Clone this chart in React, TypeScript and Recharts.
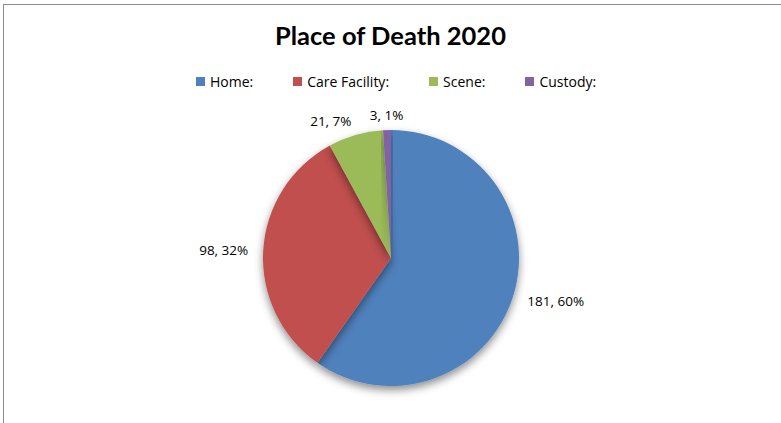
import { PieChart, Pie, Cell } from "recharts";

const categories = ["Home:", "Care Facility:", "Scene:", "Custody:"];
const counts = [181, 98, 21, 3];
const percents = ["60%", "32%", "7%", "1%"];
const colors = ["#4F81BD", "#C0504D", "#9BBB59", "#8064A2"];

const data = categories.map((name, i) => ({
  name,
  value: counts[i],
  pct: percents[i],
}));

const RAD = Math.PI / 180;

function renderLabel(props: any) {
  const { cx, cy, midAngle, outerRadius, index } = props;
  const r = outerRadius + 15;
  const cos = Math.cos(-midAngle * RAD);
  const sin = Math.sin(-midAngle * RAD);
  const x = cx + r * cos;
  const y = cy + r * sin;
  const anchor = Math.abs(cos) < 0.1 ? "middle" : cos > 0 ? "start" : "end";
  return (
    <text
      x={x}
      y={y}
      textAnchor={anchor}
      dominantBaseline="central"
      fill="#000"
      fontSize={13.5}
      fontFamily="'Open Sans', sans-serif"
    >
      {`${data[index].value}, ${data[index].pct}`}
    </text>
  );
}

function LegendRow() {
  return (
    <div
      style={{
        position: "absolute",
        left: 196,
        top: 72,
        display: "flex",
        fontFamily: "'Open Sans', sans-serif",
        fontSize: 14,
        color: "#000",
        whiteSpace: "nowrap",
      }}
    >
      {data.map((d, i) => (
        <div
          key={d.name}
          style={{
            display: "flex",
            alignItems: "center",
            marginRight: i < data.length - 1 ? 40 : 0,
          }}
        >
          <span
            style={{
              width: 9,
              height: 9,
              background: colors[i],
              display: "inline-block",
              marginRight: 5,
            }}
          />
          <span>{d.name}</span>
        </div>
      ))}
    </div>
  );
}

export default function App() {
  return (
    <div
      style={{
        position: "absolute",
        left: 0,
        top: 0,
        width: 781,
        height: 423,
        background: "#fff",
        overflow: "hidden",
      }}
    >
      <div
        style={{
          position: "absolute",
          left: 3,
          top: 4,
          width: 800,
          height: 440,
          borderLeft: "1px solid #8c8c8c",
          borderTop: "1px solid #8c8c8c",
        }}
      />
      <div
        style={{
          position: "absolute",
          left: 0,
          top: 20,
          width: 781,
          textAlign: "center",
          fontFamily: "Lato, 'Open Sans', sans-serif",
          fontWeight: 700,
          fontSize: 25.5,
          color: "#000",
        }}
      >
        Place of Death 2020
      </div>
      <LegendRow />
      <svg width={0} height={0} style={{ position: "absolute" }}>
        <defs>
          <filter id="pieShadow" x="-20%" y="-20%" width="140%" height="150%">
            <feDropShadow dx="0" dy="4" stdDeviation="4" floodColor="#000" floodOpacity="0.45" />
          </filter>
        </defs>
      </svg>
      <div style={{ position: "absolute", left: 0, top: 0 }}>
        <PieChart width={781} height={423} margin={{ top: 0, right: 0, bottom: 0, left: 0 }}>
          <Pie
            data={data}
            dataKey="value"
            nameKey="name"
            cx={391}
            cy={258}
            outerRadius={128}
            startAngle={90}
            endAngle={-270}
            stroke="none"
            label={renderLabel}
            labelLine={false}
            isAnimationActive={false}
            style={{ filter: "url(#pieShadow)" }}
          >
            {data.map((d, i) => (
              <Cell key={d.name} fill={colors[i]} />
            ))}
          </Pie>
        </PieChart>
      </div>
    </div>
  );
}
